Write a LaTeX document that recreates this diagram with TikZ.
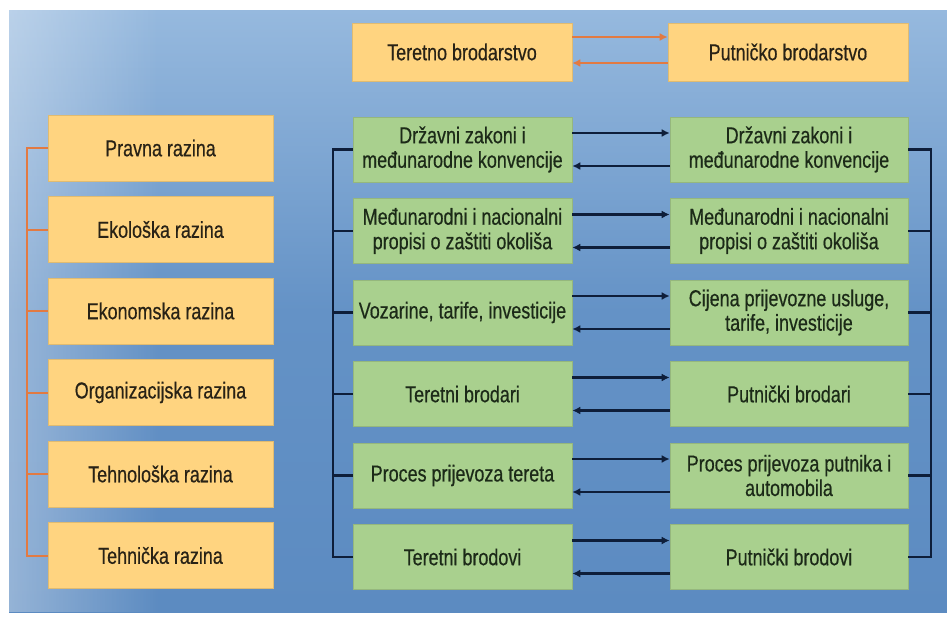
\documentclass[tikz,border=0pt]{standalone}
\usepackage{fontspec}
\setmainfont{Liberation Sans}[FakeStretch=0.78,FakeBold=0.5]
\usetikzlibrary{arrows.meta,fadings}

\definecolor{skyTop}{RGB}{150,185,222}
\definecolor{skyMid}{RGB}{100,146,198}
\definecolor{skyBot}{RGB}{92,139,193}
\definecolor{levelFill}{RGB}{255,212,128}
\definecolor{levelLine}{RGB}{226,122,66}
\definecolor{elemFill}{RGB}{169,208,142}
\definecolor{linkLine}{RGB}{14,30,58}
\definecolor{txtLevel}{RGB}{40,34,22}
\definecolor{txtElem}{RGB}{28,42,24}

\tikzfading[name=hazeright, left color=transparent!0, right color=transparent!100]

\tikzset{every picture/.style={line width=0.75pt}}
\tikzset{
  levelbox/.style={draw=levelFill!88!black, line width=0.6pt, fill=levelFill, minimum width=225pt, minimum height=66pt, align=center, inner sep=1pt, text=txtLevel, font=\fontsize{23}{24.5}\selectfont},
  elembox/.style={draw=elemFill!88!black, line width=0.6pt, fill=elemFill, minimum height=65pt, align=center, inner sep=1pt, text=txtElem, font=\fontsize{23}{24.5}\selectfont},
  orangelink/.style={draw=levelLine, line width=2pt},
  blacklink/.style={draw=linkLine, line width=2.2pt},
  tip/.style={-{Latex[length=8pt,width=8pt]}}
}

\begin{document}
\begin{tikzpicture}[x=1pt,y=1pt,yscale=-1,xscale=1]
\useasboundingbox (0,0) rectangle (947,630);

%Shape: Background
\fill [white] (0,0) rectangle (947,630);
\shade [top color=skyTop, bottom color=skyBot, middle color=skyMid] (9,10) rectangle (947,612);
\fill [white, fill opacity=0.35, path fading=hazeright] (9,10) rectangle (160,612);

% Text Node
\node [levelbox, minimum width=220pt, minimum height=58pt] (cargo) at (462,52) {Teretno brodarstvo};
% Text Node
\node [levelbox, minimum width=240pt, minimum height=58pt] (pass) at (788,52) {Putničko brodarstvo};

% Text Node
\node [levelbox] (lv1) at (160.5,148) {Pravna razina};
% Text Node
\node [levelbox] (lv2) at (160.5,229.5) {Ekološka razina};
% Text Node
\node [levelbox] (lv3) at (160.5,311) {Ekonomska razina};
% Text Node
\node [levelbox] (lv4) at (160.5,392.5) {Organizacijska razina};
% Text Node
\node [levelbox] (lv5) at (160.5,474) {Tehnološka razina};
% Text Node
\node [levelbox] (lv6) at (160.5,555.5) {Tehnička razina};

% Text Node
\node [elembox, minimum width=219pt] (cl1) at (462.5,149.5) {Državni zakoni i\\međunarodne konvencije};
% Text Node
\node [elembox, minimum width=219pt] (cl2) at (462.5,231) {Međunarodni i nacionalni\\propisi o zaštiti okoliša};
% Text Node
\node [elembox, minimum width=219pt] (cl3) at (462.5,312.5) {Vozarine, tarife, investicije};
% Text Node
\node [elembox, minimum width=219pt] (cl4) at (462.5,394) {Teretni brodari};
% Text Node
\node [elembox, minimum width=219pt] (cl5) at (462.5,475.5) {Proces prijevoza tereta};
% Text Node
\node [elembox, minimum width=219pt] (cl6) at (462.5,557) {Teretni brodovi};

% Text Node
\node [elembox, minimum width=238pt] (pl1) at (789,149.5) {Državni zakoni i\\međunarodne konvencije};
% Text Node
\node [elembox, minimum width=238pt] (pl2) at (789,231) {Međunarodni i nacionalni\\propisi o zaštiti okoliša};
% Text Node
\node [elembox, minimum width=238pt] (pl3) at (789,312.5) {Cijena prijevozne usluge,\\tarife, investicije};
% Text Node
\node [elembox, minimum width=238pt] (pl4) at (789,394) {Putnički brodari};
% Text Node
\node [elembox, minimum width=238pt] (pl5) at (789,475.5) {Proces prijevoza putnika i\\automobila};
% Text Node
\node [elembox, minimum width=238pt] (pl6) at (789,557) {Putnički brodovi};

%Straight Lines: top pair
\draw [orangelink, tip] ([yshift=-15pt]cargo.east) -- ([yshift=-15pt]pass.west);
\draw [orangelink, tip] ([yshift=11pt]pass.west) -- ([yshift=11pt]cargo.east);

%Straight Lines: level bracket
\draw [orangelink] (lv1.west) -- ++(-21,0) |- (lv6.west);
\draw [orangelink] (lv2.west) -- ++(-21,0);
\draw [orangelink] (lv3.west) -- ++(-21,0);
\draw [orangelink] (lv4.west) -- ++(-21,0);
\draw [orangelink] (lv5.west) -- ++(-21,0);

%Straight Lines: cargo bracket
\draw [blacklink] (cl1.west) -- ++(-20,0) |- (cl6.west);
\draw [blacklink] (cl2.west) -- ++(-20,0);
\draw [blacklink] (cl3.west) -- ++(-20,0);
\draw [blacklink] (cl4.west) -- ++(-20,0);
\draw [blacklink] (cl5.west) -- ++(-20,0);

%Straight Lines: passenger bracket
\draw [blacklink] (pl1.east) -- ++(23,0) |- (pl6.east);
\draw [blacklink] (pl2.east) -- ++(23,0);
\draw [blacklink] (pl3.east) -- ++(23,0);
\draw [blacklink] (pl4.east) -- ++(23,0);
\draw [blacklink] (pl5.east) -- ++(23,0);

%Straight Lines: row links
\draw [blacklink, tip] ([yshift=-16.5pt]cl1.east) -- ([yshift=-16.5pt]pl1.west);
\draw [blacklink, tip] ([yshift=16.5pt]pl1.west) -- ([yshift=16.5pt]cl1.east);
\draw [blacklink, tip] ([yshift=-16.5pt]cl2.east) -- ([yshift=-16.5pt]pl2.west);
\draw [blacklink, tip] ([yshift=16.5pt]pl2.west) -- ([yshift=16.5pt]cl2.east);
\draw [blacklink, tip] ([yshift=-16.5pt]cl3.east) -- ([yshift=-16.5pt]pl3.west);
\draw [blacklink, tip] ([yshift=16.5pt]pl3.west) -- ([yshift=16.5pt]cl3.east);
\draw [blacklink, tip] ([yshift=-16.5pt]cl4.east) -- ([yshift=-16.5pt]pl4.west);
\draw [blacklink, tip] ([yshift=16.5pt]pl4.west) -- ([yshift=16.5pt]cl4.east);
\draw [blacklink, tip] ([yshift=-16.5pt]cl5.east) -- ([yshift=-16.5pt]pl5.west);
\draw [blacklink, tip] ([yshift=16.5pt]pl5.west) -- ([yshift=16.5pt]cl5.east);
\draw [blacklink, tip] ([yshift=-16.5pt]cl6.east) -- ([yshift=-16.5pt]pl6.west);
\draw [blacklink, tip] ([yshift=16.5pt]pl6.west) -- ([yshift=16.5pt]cl6.east);

\end{tikzpicture}
\end{document}
